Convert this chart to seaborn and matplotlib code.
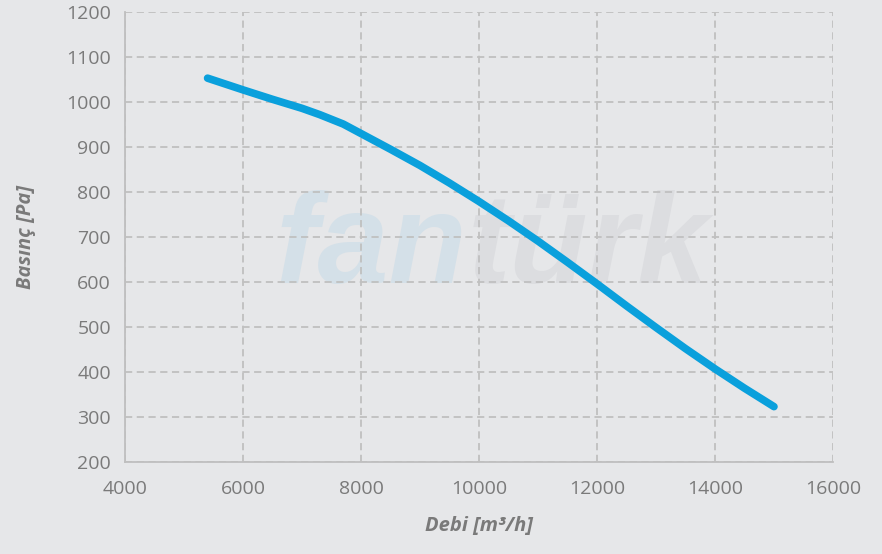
import numpy as np
import matplotlib
matplotlib.use("Agg")
import matplotlib.pyplot as plt
import seaborn as sns
import pandas as pd

# Fan curve values
debi = [5400, 6000, 6500, 7000, 7300, 7700, 8000, 8500, 9000, 9500, 10000,
        10500, 11000, 11500, 12000, 12500, 13000, 13500, 14000, 14500, 15000]
basinc = [1053, 1027, 1006, 986, 972, 951, 930, 895, 859, 820, 779,
          736, 691, 644, 596, 547, 499, 452, 407, 364, 323]
x_ticks = [4000, 6000, 8000, 10000, 12000, 14000, 16000]
y_ticks = [200, 300, 400, 500, 600, 700, 800, 900, 1000, 1100, 1200]

bg = "#e6e7e9"
sns.set_style("white")
plt.rcParams["font.family"] = ["Open Sans", "DejaVu Sans"]

df = pd.DataFrame({"Debi": debi, "Basinc": basinc})

fig = plt.figure(figsize=(8.82, 5.54), dpi=100, facecolor=bg)
ax = fig.add_axes([0.1417, 0.1661, 0.8027, 0.8122], facecolor=bg)

# Watermark
wm_font = ["Liberation Sans", "DejaVu Sans"]
ax.text(9800, 598, "fan", ha="right", va="baseline", fontsize=92,
        fontweight="bold", style="italic", color="#d4e0e8", zorder=0,
        family=wm_font)
ax.text(9800, 598, "türk", ha="left", va="baseline", fontsize=92,
        fontweight="bold", style="italic", color="#dcdde0", zorder=0,
        family=wm_font)

sns.lineplot(data=df, x="Debi", y="Basinc", ax=ax, color="#0aa0dc",
             linewidth=5.5, solid_capstyle="round", solid_joinstyle="round",
             zorder=3)

ax.set_xlim(4000, 16000)
ax.set_ylim(200, 1200)
ax.set_xticks(x_ticks)
ax.set_yticks(y_ticks)
ax.grid(True, linestyle=(0, (4, 2.5)), color="#c0c0c0", linewidth=1.3, zorder=1)
ax.set_axisbelow(True)

for s in ["top", "right"]:
    ax.spines[s].set_visible(False)
for s in ["left", "bottom"]:
    ax.spines[s].set_color("#bfbfbf")
    ax.spines[s].set_linewidth(1.3)

ax.tick_params(axis="both", length=0, labelsize=14, labelcolor="#7a7a7a")
ax.tick_params(axis="x", pad=13)
ax.tick_params(axis="y", pad=10)

ax.set_xlabel("Debi [m³/h]", fontsize=14.5, fontweight="bold", style="italic",
              color="#7a7a7a", labelpad=13)
ax.set_ylabel("Basınç [Pa]", fontsize=14.5, fontweight="bold", style="italic",
              color="#7a7a7a", labelpad=22)

fig.savefig("out.png", dpi=100, facecolor=bg)
